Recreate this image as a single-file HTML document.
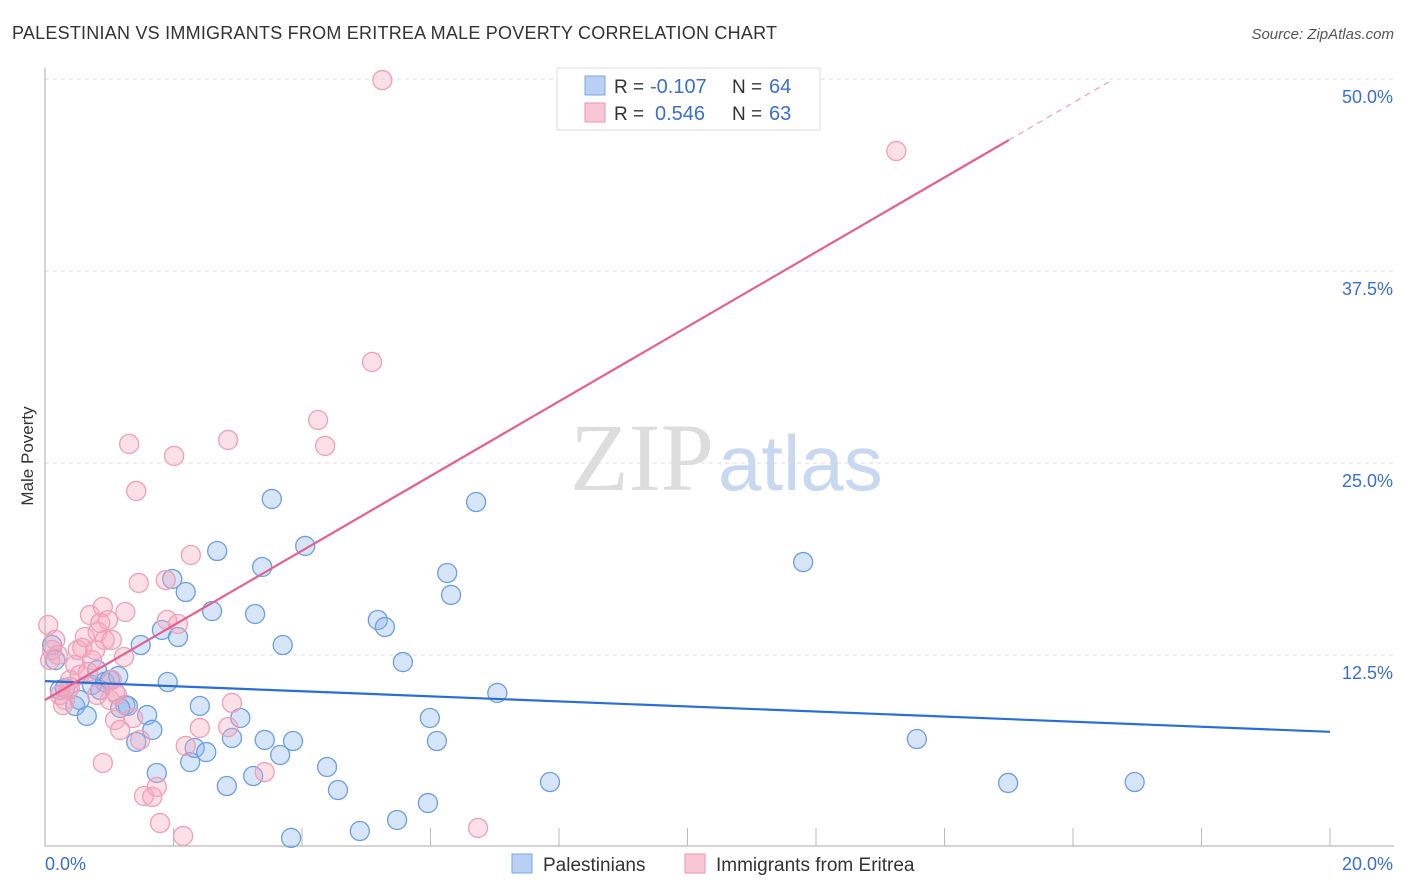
<!DOCTYPE html>
<html><head><meta charset="utf-8"><style>
body{margin:0;background:#fff;font-family:"Liberation Sans",sans-serif}
svg{display:block}
</style></head><body>
<svg id="c" width="1406" height="892">
<text x="12" y="39" font-size="18" fill="#333" textLength="765">PALESTINIAN VS IMMIGRANTS FROM ERITREA MALE POVERTY CORRELATION CHART</text>
<text x="1394" y="39" font-size="15" fill="#555" font-style="italic" text-anchor="end">Source: ZipAtlas.com</text>
<text x="33" y="456" font-size="17" fill="#333" transform="rotate(-90 33 456)" text-anchor="middle">Male Poverty</text>
<text x="714" y="490" font-size="96" fill="#ddd" text-anchor="end" font-family="Liberation Serif">ZIP</text>
<text x="718" y="490" font-size="78" fill="#c8d8f0">atlas</text>
<g id="grid"></g><g id="pts"></g><g id="lines"></g>
<g>
<rect x="557" y="68" width="263" height="62" fill="#fff" stroke="#ddd"/>
<rect x="585" y="76" width="20" height="19" fill="#b8d0f4" stroke="#7aa6e6"/>
<rect x="585" y="103" width="20" height="19" fill="#f9c6d6" stroke="#ee93b0"/>
<text x="614" y="93" font-size="19" fill="#333">R =</text>
<text x="650" y="93" font-size="20" fill="#3a6fd0">-0.107</text>
<text x="732" y="93" font-size="19" fill="#333">N =</text>
<text x="769" y="93" font-size="20" fill="#3a6fd0">64</text>
<text x="614" y="120" font-size="19" fill="#333">R =</text>
<text x="655" y="120" font-size="20" fill="#3a6fd0">0.546</text>
<text x="732" y="120" font-size="19" fill="#333">N =</text>
<text x="769" y="120" font-size="20" fill="#3a6fd0">63</text>
</g>
<g>
<rect x="512" y="854" width="20" height="19" fill="#b8d0f4" stroke="#7aa6e6"/>
<text x="543" y="871" font-size="19" fill="#333">Palestinians</text>
<rect x="685" y="854" width="20" height="19" fill="#f9c6d6" stroke="#ee93b0"/>
<text x="716" y="871" font-size="19" fill="#333">Immigrants from Eritrea</text>
</g>
</svg>
<script>
const yTicks=[12.5,25,37.5,50];
const yTickLabels=["12.5%","25.0%","37.5%","50.0%"];
const xTickLabels=["0.0%","20.0%"];
const bluePx=[[52,645],[55,660],[60,690],[65,688],[75,706],[87,716],[92,685],[97,670],[105,682],[110,680],[118,676],[125,705],[128,706],[136,742],[141,645],[147,715],[152,730],[157,773],[162,630],[168,682],[172,579],[178,637],[186,592],[190,762],[195,748],[200,706],[206,752],[212,611],[217,551],[227,786],[232,738],[240,718],[253,776],[255,614],[262,567],[265,740],[272,499],[280,755],[283,645],[291,838],[293,741],[305,546],[327,767],[338,790],[360,831],[378,620],[385,627],[397,820],[403,662],[428,803],[430,718],[437,741],[447,573],[451,595],[476,502],[497,693],[550,782],[803,562],[917,739],[1008,783],[1135,782],[120,708],[100,690],[80,700]];
const pinkPx=[[48,625],[50,660],[52,650],[55,640],[60,695],[65,700],[70,687],[75,665],[78,650],[82,648],[85,637],[90,615],[92,660],[95,650],[98,632],[103,607],[105,640],[108,620],[110,700],[112,640],[115,720],[117,695],[120,730],[125,612],[124,657],[129,444],[133,718],[136,491],[139,583],[140,740],[144,796],[152,797],[157,787],[160,823],[166,580],[167,620],[174,456],[178,624],[183,836],[186,746],[191,555],[200,728],[228,440],[232,703],[228,727],[265,772],[318,420],[325,446],[372,362],[382,80],[478,828],[896,151],[103,763],[63,705],[70,680],[88,672],[97,695],[68,690],[58,655],[100,623],[112,680],[115,692],[80,675]];
const blueX=bluePx.map(p=>+((p[0]-45)/64.25).toFixed(2)), blueY=bluePx.map(p=>+((847-p[1])/15.36).toFixed(2));
const pinkX=pinkPx.map(p=>+((p[0]-45)/64.25).toFixed(2)), pinkY=pinkPx.map(p=>+((847-p[1])/15.36).toFixed(2));
const blueTrend=[10.8,7.5];
const pinkTrend=[9.57,2.43];
const X=v=>45+v*64.25, Y=v=>847-v*15.36;
const NS="http://www.w3.org/2000/svg";
function mk(t,a,p){const e=document.createElementNS(NS,t);for(const k in a)e.setAttribute(k,a[k]);p.appendChild(e);return e;}
const g=document.getElementById('grid');
yTicks.forEach((t,i)=>{
 const l=mk('line',{x1:45,x2:1394,y1:Y(t),y2:Y(t),stroke:'#ddd','stroke-dasharray':'4 4'},g);
 
 
 const tx=mk('text',{x:1393,y:Y(t)+24,'font-size':18,fill:'#3a6fd0','text-anchor':'end'},g);
 tx.textContent=yTickLabels[i];
 
 
});
mk('line',{x1:45,x2:45,y1:68,y2:846,stroke:'#aaa'},g);
mk('line',{x1:45,x2:1394,y1:846,y2:846,stroke:'#aaa'},g);
for(let i=1;i<=10;i++){mk('line',{x1:X(i*2),x2:X(i*2),y1:828,y2:846,stroke:'#bbb'},g);}
[[0,45,'start'],[20,1393,'end']].forEach((d,i)=>{const t=mk('text',{x:d[1],y:870,'font-size':18,fill:'#3a6fd0','text-anchor':d[2]},g);t.textContent=xTickLabels[i];
 
 });
const P=document.getElementById('pts');
blueX.forEach((x,i)=>{const c=mk('circle',{cx:X(x),cy:Y(blueY[i]),r:9.5,fill:'rgba(140,180,235,0.35)',stroke:'#6d9ee0','stroke-width':1.3},P);
 
 });
pinkX.forEach((x,i)=>{const c=mk('circle',{cx:X(x),cy:Y(pinkY[i]),r:9.5,fill:'rgba(245,165,190,0.35)',stroke:'#eea0b8','stroke-width':1.3},P);
 
 });
const L=document.getElementById('lines');
let b=mk('line',{x1:X(0),y1:Y(blueTrend[0]),x2:X(20),y2:Y(blueTrend[1]),stroke:'#2a6fd6','stroke-width':2.2},L);


let p=mk('line',{x1:X(0),y1:Y(pinkTrend[0]),x2:X(15),y2:Y(pinkTrend[0]+15*pinkTrend[1]),stroke:'#e5608e','stroke-width':2.2},L);


let pd=mk('line',{x1:X(15),y1:Y(pinkTrend[0]+15*pinkTrend[1]),x2:X(16.6),y2:Y(pinkTrend[0]+16.6*pinkTrend[1]),stroke:'#f0a0bb','stroke-width':1.2,'stroke-dasharray':'6 5'},L);


</script>
</body></html>
